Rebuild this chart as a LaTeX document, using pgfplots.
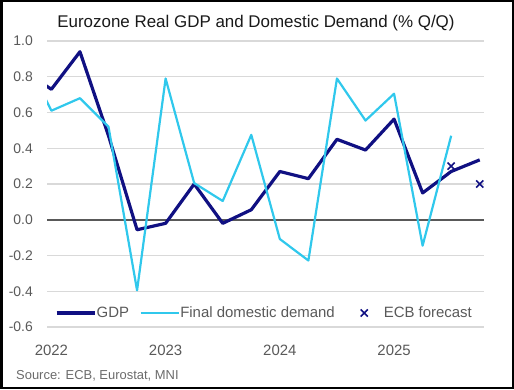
\documentclass[border=0pt]{standalone}
\usepackage{pgfplots}
\pgfplotsset{compat=1.18}
\usepackage{fontspec}
\setmainfont{Liberation Sans}
\definecolor{gdpc}{RGB}{16,16,130}
\definecolor{fddc}{RGB}{48,200,236}
\definecolor{lblc}{RGB}{89,89,89}
\definecolor{gridc}{RGB}{217,217,217}
\definecolor{zeroc}{RGB}{89,89,89}
\pgfplotsset{
  linelegend/.style={legend image code/.code={\draw[##1] (0bp,0bp) -- (38bp,0bp);}},
  marklegend/.style={legend image code/.code={\path[draw=none] (0bp,0bp) -- (38bp,0bp); \draw[##1] plot coordinates {(19bp,0bp)};}},
}
\begin{document}
\begin{tikzpicture}[x=1bp,y=1bp]
\useasboundingbox (0,0) rectangle (514,389);
\begin{axis}[
  at={(47bp,62bp)}, anchor=south west,
  scale only axis, width=437bp, height=286bp,
  xmin=-0.154, xmax=15.15, ymin=-0.6, ymax=1.0,
  clip mode=individual,
  axis line style={draw=none},
  major tick length=0pt,
  xtick={0,4,8,12}, xticklabels={2022,2023,2024,2025},
  ytick={-0.6,-0.4,-0.2,0,0.2,0.4,0.6,0.8,1.0},
  yticklabels={-0.6,-0.4,-0.2,0.0,0.2,0.4,0.6,0.8,1.0},
  xticklabel style={anchor=base, yshift=-28bp, font=\fontsize{15}{15}\selectfont, text=lblc},
  yticklabel style={anchor=east, inner sep=0pt, xshift=-14bp, font=\fontsize{14}{14}\selectfont, text=lblc},
  ymajorgrids, grid style={gridc, line width=1.2bp},
  extra y ticks={0}, extra y tick labels={},
  extra y tick style={grid style={zeroc, line width=1.6bp}},
  legend columns=3,
  legend style={at={(0.0183,0.049)}, anchor=west, draw=none, fill=none,
    inner sep=0pt, outer sep=0pt,
    font=\fontsize{15}{15}\selectfont, text=lblc,
    nodes={inner sep=0.5bp},
    /tikz/every even column/.append style={column sep=10bp}},
]
\addplot[gdpc, line width=3.2bp, line join=round, linelegend] coordinates {
(-1,0.834) (0,0.73) (1,0.94) (2,0.47) (3,-0.056) (4,-0.02) (5,0.20) (6,-0.02) (7,0.056)
(8,0.27) (9,0.23) (10,0.45) (11,0.39) (12,0.563) (13,0.15) (14,0.27) (15,0.335)};
\addlegendentry{GDP}
\addplot[fddc, line width=2.2bp, line join=round, linelegend] coordinates {
(-1,0.935) (0,0.61) (1,0.68) (2,0.52) (3,-0.395) (4,0.79) (5,0.205) (6,0.105) (7,0.475)
(8,-0.108) (9,-0.228) (10,0.79) (11,0.555) (12,0.705) (13,-0.145) (14,0.47)};
\addlegendentry{Final domestic demand}
\addplot[gdpc, only marks, mark=x, mark size=5bp, line width=1.6bp, marklegend] coordinates {
(14,0.30) (15,0.20)};
\addlegendentry{ECB forecast}
\end{axis}
\node[anchor=base, font=\fontsize{17}{17}\selectfont, text=black!90] at (256,361.3) {Eurozone Real GDP and Domestic Demand (\% Q/Q)};
\node[anchor=base west, inner sep=0pt, font=\fontsize{13}{13}\selectfont, text=lblc!90!white] at (16,9.7) {Source: ECB, Eurostat, MNI};
\draw[black, line width=2.5bp] (1.25,1.25) rectangle (512.75,387.75);
\end{tikzpicture}
\end{document}
